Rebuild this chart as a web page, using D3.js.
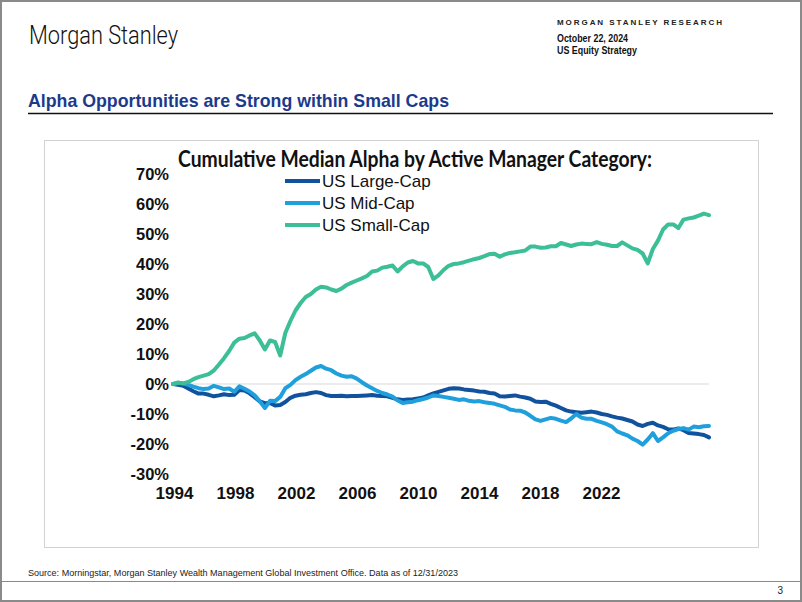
<!DOCTYPE html>
<html><head><meta charset="utf-8">
<script src="https://cdn.jsdelivr.net/npm/d3@7"></script>
<style>html,body{margin:0;padding:0;background:#fff;}svg{display:block;}</style>
</head><body>
<svg id="c" width="802" height="602"></svg>
<script>
// ---- data (cumulative median alpha, %) ----
const seriesNames = ["US Large-Cap", "US Mid-Cap", "US Small-Cap"];
const xTickLabels = ["1994","1998","2002","2006","2010","2014","2018","2022"];
const yTicks = [70,60,50,40,30,20,10,0,-10,-20,-30];

const largeCap = [0,-0.3,-0.6,-1.5,-2.4,-3.2,-3.2,-3.6,-4.1,-3.8,-3.4,-3.7,-3.6,-2.0,-2.2,-3.1,-4.4,-5.8,-6.4,-6.3,
 -7.2,-7.0,-6.0,-4.6,-3.9,-3.6,-3.4,-3.0,-2.7,-3.0,-3.7,-4.0,-4.0,-3.9,-4.1,-4.0,-4.0,-3.9,-3.8,-3.7,
 -3.9,-4.0,-4.1,-4.6,-5.1,-5.3,-5.2,-5.1,-4.8,-4.5,-3.8,-3.1,-2.6,-2.1,-1.6,-1.4,-1.5,-1.8,-2.0,-2.2,
 -2.5,-2.6,-3.0,-3.2,-4.1,-4.2,-4.0,-3.8,-4.2,-4.5,-4.9,-5.8,-6.0,-5.9,-6.6,-7.2,-8.0,-8.8,-9.2,-9.4,
 -9.6,-9.4,-9.2,-9.5,-10.0,-10.3,-10.8,-11.2,-11.5,-12.0,-12.5,-13.5,-14.0,-13.3,-12.9,-13.8,-14.3,-15.1,-15.2,-14.8,
 -15.4,-16.3,-16.5,-16.7,-17.0,-17.8];
const midCap = [0,0.3,0.2,-0.3,-0.9,-1.4,-1.7,-1.5,-0.6,-1.1,-1.7,-1.5,-2.6,-0.8,-1.6,-2.5,-3.8,-5.8,-8.0,-5.6,
 -5.7,-4.3,-1.4,-0.3,1.3,2.4,3.3,4.4,5.5,6.0,5.1,4.6,3.5,2.8,2.4,2.6,1.8,0.6,-0.5,-1.4,
 -2.3,-3.0,-3.5,-4.2,-5.5,-6.3,-6.1,-5.9,-5.4,-5.0,-4.5,-3.8,-4.0,-4.3,-4.6,-4.9,-5.3,-5.1,-5.6,-5.8,
 -5.7,-6.1,-6.3,-6.6,-7.1,-7.6,-8.5,-8.8,-8.9,-9.5,-10.6,-11.8,-12.3,-11.8,-11.3,-11.6,-12.2,-12.7,-11.5,-10.0,
 -11.2,-11.6,-11.6,-12.3,-12.8,-13.4,-14.2,-15.8,-16.5,-17.1,-18.2,-19.0,-20.2,-18.5,-16.4,-19.0,-17.8,-16.4,-15.6,-15.0,
 -14.7,-15.2,-14.2,-14.4,-14.1,-14.0];
const smallCap = [0,0.5,0.2,0.7,1.6,2.3,2.8,3.3,4.5,6.5,8.6,11.0,13.8,15.1,15.3,16.2,16.9,14.5,11.5,14.5,
 14.0,9.5,17.0,21.0,24.5,27.0,29.0,30.0,31.5,32.4,32.2,31.5,31.0,31.8,33.0,33.8,34.5,35.2,36.0,37.5,
 37.8,38.8,39.1,39.5,37.5,39.2,40.5,41.0,40.2,40.2,39.0,35.0,36.2,38.0,39.4,40.0,40.2,40.6,41.1,41.6,
 42.0,42.6,43.3,43.4,42.4,43.2,43.7,43.9,44.2,44.5,45.8,45.8,45.4,45.5,45.9,45.9,47.0,46.5,46.0,46.5,
 46.8,46.7,46.6,47.3,46.7,46.4,46.0,46.0,47.2,46.2,45.2,44.7,43.5,40.2,45.0,47.8,51.5,53.2,53.2,52.0,
 54.8,55.2,55.5,56.1,56.8,56.3];
const seriesColors = ["#11529e", "#1fa0dc", "#3cbe96"];

const svg = d3.select("#c");
const F = "'Liberation Sans', Arial, sans-serif";

// page frame
svg.append("rect").attr("x",1).attr("y",1).attr("width",800).attr("height",600)
  .attr("fill","none").attr("stroke","#8a8a8a").attr("stroke-width",2);

// header
svg.append("text").attr("x",29).attr("y",44).text("Morgan Stanley")
  .attr("font-family","Roboto, 'Liberation Sans', sans-serif").attr("font-weight",300)
  .attr("font-size",26).attr("fill","#111")
  .attr("textLength",149).attr("lengthAdjust","spacingAndGlyphs");
svg.append("text").attr("x",557).attr("y",25).text("MORGAN STANLEY RESEARCH")
  .attr("font-family",F).attr("font-weight","bold").attr("font-size",8).attr("fill","#222")
  .attr("textLength",165).attr("lengthAdjust","spacing");
svg.append("text").attr("x",557).attr("y",42).text("October 22, 2024")
  .attr("font-family",F).attr("font-weight","bold").attr("font-size",10).attr("fill","#111")
  .attr("textLength",71).attr("lengthAdjust","spacingAndGlyphs");
svg.append("text").attr("x",557).attr("y",54).text("US Equity Strategy")
  .attr("font-family",F).attr("font-weight","bold").attr("font-size",10).attr("fill","#111")
  .attr("textLength",80).attr("lengthAdjust","spacingAndGlyphs");

svg.append("text").attr("x",28).attr("y",107).text("Alpha Opportunities are Strong within Small Caps")
  .attr("font-family",F).attr("font-weight","bold").attr("font-size",18.5).attr("fill","#1c3a8c")
  .attr("textLength",421).attr("lengthAdjust","spacingAndGlyphs");
svg.append("line").attr("x1",28).attr("x2",773).attr("y1",113.5).attr("y2",113.5)
  .attr("stroke","#111").attr("stroke-width",1.5);

// chart box
svg.append("rect").attr("x",44.5).attr("y",140.5).attr("width",714).attr("height",407)
  .attr("fill","#fff").attr("stroke","#d2d2d2").attr("stroke-width",1);

// footer
svg.append("text").attr("x",28).attr("y",576)
  .text("Source: Morningstar, Morgan Stanley Wealth Management Global Investment Office. Data as of 12/31/2023")
  .attr("font-family",F).attr("font-size",9.5).attr("fill","#222")
  .attr("textLength",430).attr("lengthAdjust","spacingAndGlyphs");
svg.append("line").attr("x1",1).attr("x2",801).attr("y1",581.5).attr("y2",581.5)
  .attr("stroke","#8a8a8a").attr("stroke-width",1);
svg.append("text").attr("x",783).attr("y",594).text("3")
  .attr("font-family",F).attr("font-size",10).attr("fill","#222").attr("text-anchor","end");

// scales
const N = largeCap.length;
const x = d3.scaleLinear().domain([0, N-1]).range([173, 709]);
const y = d3.scaleLinear().domain([-30, 70]).range([474, 174]);
const xLab = d3.scalePoint().domain(xTickLabels).range([174, 601]);

// zero line
svg.append("line").attr("x1",x(0)).attr("x2",x(N-1)).attr("y1",y(0)).attr("y2",y(0))
  .attr("stroke","#d9d9d9").attr("stroke-width",1);

// y axis labels
const yAxis = d3.axisLeft(y).tickValues(yTicks).tickSize(0).tickPadding(0).tickFormat(d => d + "%");
const gy = svg.append("g").attr("transform","translate(169,0)").call(yAxis);
gy.select(".domain").remove();
gy.selectAll("text").attr("font-family",F).attr("font-weight","bold").attr("font-size",16.5).attr("fill","#111");

// x axis labels
const xAxis = d3.axisBottom(xLab).tickSize(0).tickPadding(0);
const gx = svg.append("g").attr("transform","translate(0,487)").call(xAxis);
gx.select(".domain").remove();
gx.selectAll("text").attr("font-family",F).attr("font-weight","bold").attr("font-size",17).attr("fill","#111");

// lines
const line = d3.line().x((d,i) => x(i)).y(d => y(d)).curve(d3.curveLinear);
[largeCap, midCap, smallCap].forEach((s, k) => {
  svg.append("path").datum(s).attr("d", line).attr("fill","none")
    .attr("stroke", seriesColors[k]).attr("stroke-width",4)
    .attr("stroke-linejoin","round").attr("stroke-linecap","round");
});

// chart title
svg.append("text").attr("x",178).attr("y",167).text("Cumulative Median Alpha by Active Manager Category:")
  .attr("font-family","Lato, 'Open Sans', sans-serif").attr("font-weight","bold").attr("font-size",22)
  .attr("fill","#111").attr("textLength",474).attr("lengthAdjust","spacingAndGlyphs");

// legend
const legY = [181, 203, 225];
seriesNames.forEach((n, k) => {
  svg.append("line").attr("x1",285).attr("x2",320).attr("y1",legY[k]).attr("y2",legY[k])
    .attr("stroke",seriesColors[k]).attr("stroke-width",4);
  svg.append("text").attr("x",322).attr("y",legY[k]).attr("dy","0.36em").text(n)
    .attr("font-family",F).attr("font-size",17).attr("fill","#111");
});
</script>
</body></html>
